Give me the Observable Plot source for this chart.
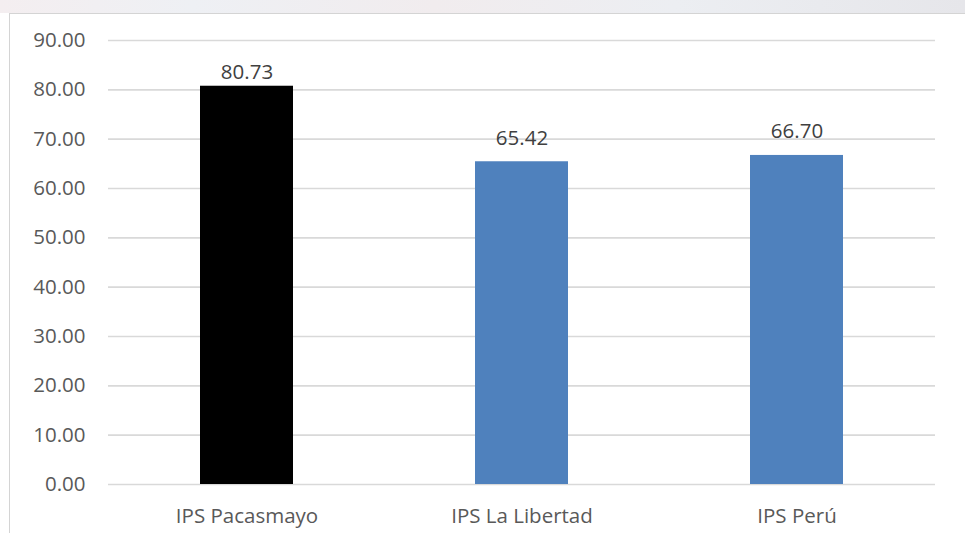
<!DOCTYPE html>
<html>
<head>
<meta charset="utf-8">
<script src="https://cdn.jsdelivr.net/npm/d3@7"></script>
<script src="https://cdn.jsdelivr.net/npm/@observablehq/plot@0.6"></script>
<style>
  html, body { margin: 0; padding: 0; background: #fff; }
  #wrap { position: relative; width: 965px; height: 533px; overflow: hidden; font-family: "Open Sans", sans-serif; }
  #topstrip { position: absolute; left: 0; top: 0; width: 965px; height: 13px;
    background: linear-gradient(90deg, #f4eef0 0%, #eef0f4 20%, #f1ecee 45%, #eceef2 70%, #e6e6ea 100%); }
  #frame { position: absolute; left: 9px; top: 13px; width: 970px; height: 540px;
    border-left: 1.5px solid #d4d4d4; border-top: 1.5px solid #d4d4d4; background: #fff; }
  #chart { position: absolute; left: 0; top: 0; }
</style>
</head>
<body>
<div id="wrap">
  <div id="topstrip"></div>
  <div id="frame"></div>
  <div id="chart"></div>
</div>
<script>
const categories = ["IPS Pacasmayo", "IPS La Libertad", "IPS Perú"];
const values = [80.73, 65.42, 66.70];
const barColors = ["#000000", "#4f81bd", "#4f81bd"];
const yTicks = [0, 10, 20, 30, 40, 50, 60, 70, 80, 90];

const data = categories.map((c, i) => ({category: c, value: values[i], color: barColors[i]}));
const fmt = d3.format(".2f");
const labelStyle = {x: "category", y: "value", text: d => fmt(d.value), lineAnchor: "bottom", fill: "#404040", fontSize: 20.5};

const chart = Plot.plot({
  width: 965,
  height: 533,
  marginLeft: 108,
  marginRight: 30,
  marginTop: 40,
  marginBottom: 49,
  style: {background: "transparent", fontFamily: "'Open Sans', sans-serif", fontSize: "20.5px", color: "#595959"},
  x: {domain: categories, paddingInner: 0.663, paddingOuter: 0.33, label: null, tickSize: 0, tickPadding: 24},
  y: {domain: [0, 90], ticks: yTicks, tickFormat: fmt, label: null, tickSize: 0, tickPadding: 23},
  marks: [
    Plot.ruleY(yTicks, {stroke: "#d9d9d9", strokeWidth: 1.6}),
    Plot.barY(data, {x: "category", y: "value", fill: "color"}),
    Plot.text(data.slice(0, 1), {...labelStyle, dy: -7}),
    Plot.text(data.slice(1), {...labelStyle, dy: -17})
  ]
});
document.getElementById("chart").appendChild(chart);
</script>
</body>
</html>
